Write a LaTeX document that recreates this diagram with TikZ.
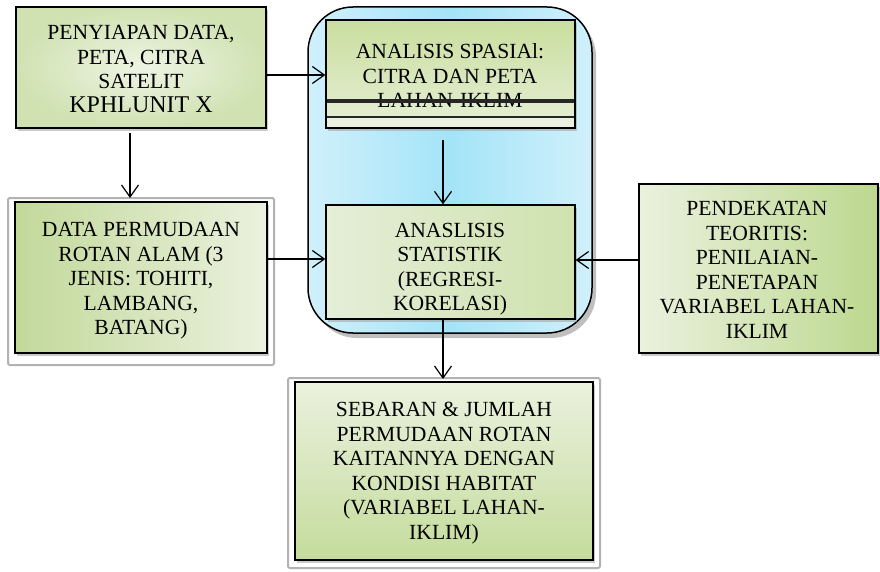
\documentclass[tikz,border=0pt]{standalone}
\usepackage{fontspec}
\setmainfont{Liberation Serif}
\usetikzlibrary{arrows.meta,shadows}
\definecolor{gA}{HTML}{EEF4E4}
\definecolor{gB}{HTML}{D0E2B2}
\definecolor{gD}{HTML}{C2D99A}
\definecolor{gL}{HTML}{EBF1DE}
\definecolor{gT}{HTML}{C9DE9E}
\definecolor{gU}{HTML}{E6EFD6}
\definecolor{gS}{HTML}{E5EED8}
\definecolor{gR}{HTML}{CFE2AE}
\definecolor{gV}{HTML}{BCD88F}
\definecolor{gW}{HTML}{C4DC9C}
\definecolor{cE}{HTML}{D0F0FB}
\definecolor{cM}{HTML}{A4E4F8}
\begin{document}
\begin{tikzpicture}[x=1pt,y=-1pt,
  txt/.style={align=center,font=\fontsize{21.6}{24.5}\selectfont,inner sep=0pt},
  box/.style={draw=black,line width=1.3pt,drop shadow={shadow xshift=2pt,shadow yshift=-3pt,fill=black!35,opacity=0.6}},
  arr/.style={draw=black,line width=1.2pt,-{Straight Barb[length=12pt,width=17pt,line width=1.2pt]}},
  frame/.style={draw=black!30,line width=2pt,rounded corners=2pt}]
\useasboundingbox (0,0) rectangle (880,572);

% container
\path[fill=black!25,rounded corners=45pt] (312,12) rectangle (596,338);
\path[draw=black,line width=1.5pt,left color=cE,right color=cE,middle color=cM,rounded corners=45pt]
  (308,7) rectangle (592,333);

% frames for box2 and box6
\draw[frame] (8,198) rectangle (274,365);
\draw[frame] (288,378) rectangle (600,568);

% boxes
\node[box,minimum width=250pt,minimum height=121pt,inner color=gA,outer color=gB] (b1) at (141,67.5) {};
\node[box,minimum width=252pt,minimum height=151pt,left color=gD,right color=gL] (b2) at (141,277.5) {};
\node[box,minimum width=249pt,minimum height=108pt,top color=gT,bottom color=gU] (b3) at (450.5,74) {};
\node[box,minimum width=249pt,minimum height=114pt,left color=gS,right color=gR] (b4) at (450.5,262) {};
\node[box,minimum width=239pt,minimum height=169pt,left color=gL,right color=gV] (b5) at (758.5,268.5) {};
\node[box,minimum width=298pt,minimum height=178pt,top color=gL,bottom color=gW] (b6) at (444,471) {};

% extra lines in b3
\fill[gL] (326.6,117) rectangle (574.4,127.4);
\draw[black!85,line width=1.5pt] (326.6,117) -- (574.4,117);

% texts
\node[txt] (t1) at (141,69) {PENYIAPAN DATA,\\PETA, CITRA\\SATELIT\\[-1pt]{\fontsize{24}{24.5}\selectfont KPHLUNIT X}};
\node[txt] (t2) at (141,281) {DATA PERMUDAAN\\ROTAN ALAM (3\\JENIS: TOHITI,\\LAMBANG,\\BATANG)};
\node[txt] (t3) at (450,76) {ANALISIS SPASIAl:\\CITRA DAN PETA\\LAHAN-IKLIM};
\node[txt] (t4) at (450,269) {ANASLISIS\\STATISTIK\\(REGRESI-\\KORELASI)};
\node[txt] (t5) at (757,270) {PENDEKATAN\\TEORITIS:\\PENILAIAN-\\PENETAPAN\\VARIABEL LAHAN-\\IKLIM};
\node[txt] (t6) at (444,473) {SEBARAN \& JUMLAH\\PERMUDAAN ROTAN\\KAITANNYA DENGAN\\KONDISI HABITAT\\(VARIABEL LAHAN-\\IKLIM)};

% thick line over text in b3
\draw[black!85,line width=4pt] (326.6,101) -- (574.4,101);

% connectors
\draw[arr] (b1.south -| 130,0) ++(0,4) -- (130,198);
\draw[arr] (b1.east |- 0,75) -- (b3.west |- 0,75);
\draw[arr] (b2.east |- 0,259) -- (b4.west |- 0,259);
\draw[arr] (b5.west |- 0,260) -- (b4.east |- 0,260);
\draw[arr] (443,140) -- (b4.north -| 443,0);
\draw[arr] (b4.south -| 443,0) -- (443,379);
\end{tikzpicture}
\end{document}
